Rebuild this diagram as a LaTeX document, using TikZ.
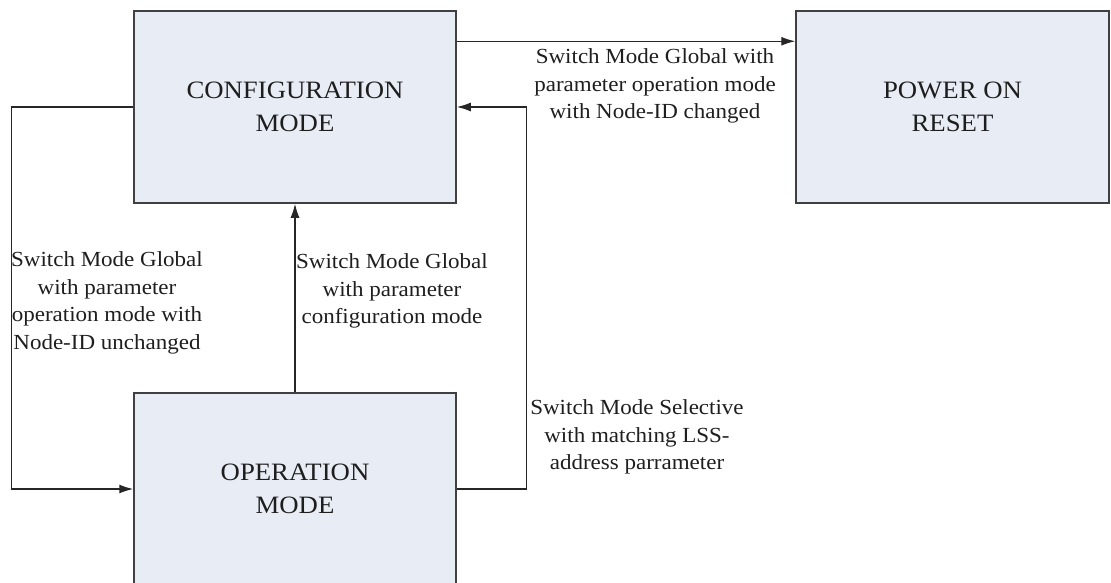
\documentclass[tikz,border=0pt]{standalone}
\usepackage{fontspec}
\setmainfont[FakeStretch=1.07]{Liberation Serif}
\usetikzlibrary{arrows.meta}
\definecolor{boxfill}{HTML}{E8EDF5}
\definecolor{boxline}{HTML}{404040}
\definecolor{txt}{HTML}{1E1E1E}
\begin{document}
\begin{tikzpicture}[x=1pt,y=-1pt,
  statebox/.style={draw=boxline, line width=1.5pt, fill=boxfill, rectangle,
    minimum width=322pt, minimum height=192pt, align=center, text=txt,
    font=\fontsize{25}{33}\selectfont, inner sep=0pt},
  lbl/.style={align=center, text=txt, font=\fontsize{21.5}{27.5}\selectfont, inner sep=0pt},
  arr/.style={line width=1.4pt, draw=black!85, -{Latex[length=14pt,width=9pt]}},
  ln/.style={line width=1.4pt, draw=black!85}]
\useasboundingbox (0,0) rectangle (1111,583);
\node[statebox] (cfg) at (295,107) {CONFIGURATION\\MODE};
\node[statebox, minimum width=313pt] (pwr) at (952.5,107) {POWER ON\\RESET};
\node[statebox] (op) at (295,489) {OPERATION\\MODE};

\draw[arr] ([yshift=-31pt]cfg.north east) -- ([yshift=-31pt]pwr.north west);
\draw[arr] (cfg.west) -- ++(-122,0) |- (op.west);
\draw[arr] (op.east) -- ++(70,0) |- (cfg.east);
\draw[arr] (op.north) -- (cfg.south);

\node[lbl] (l1) at (107,303) {Switch Mode Global\\with parameter\\operation mode with\\Node-ID unchanged};
\node[lbl] (l2) at (392,291) {Switch Mode Global\\with parameter\\configuration mode};
\node[lbl] (l3) at (655,86) {Switch Mode Global with\\parameter operation mode\\with Node-ID changed};
\node[lbl] (l4) at (637,437) {Switch Mode Selective\\with matching LSS-\\address parrameter};
\end{tikzpicture}
\end{document}
